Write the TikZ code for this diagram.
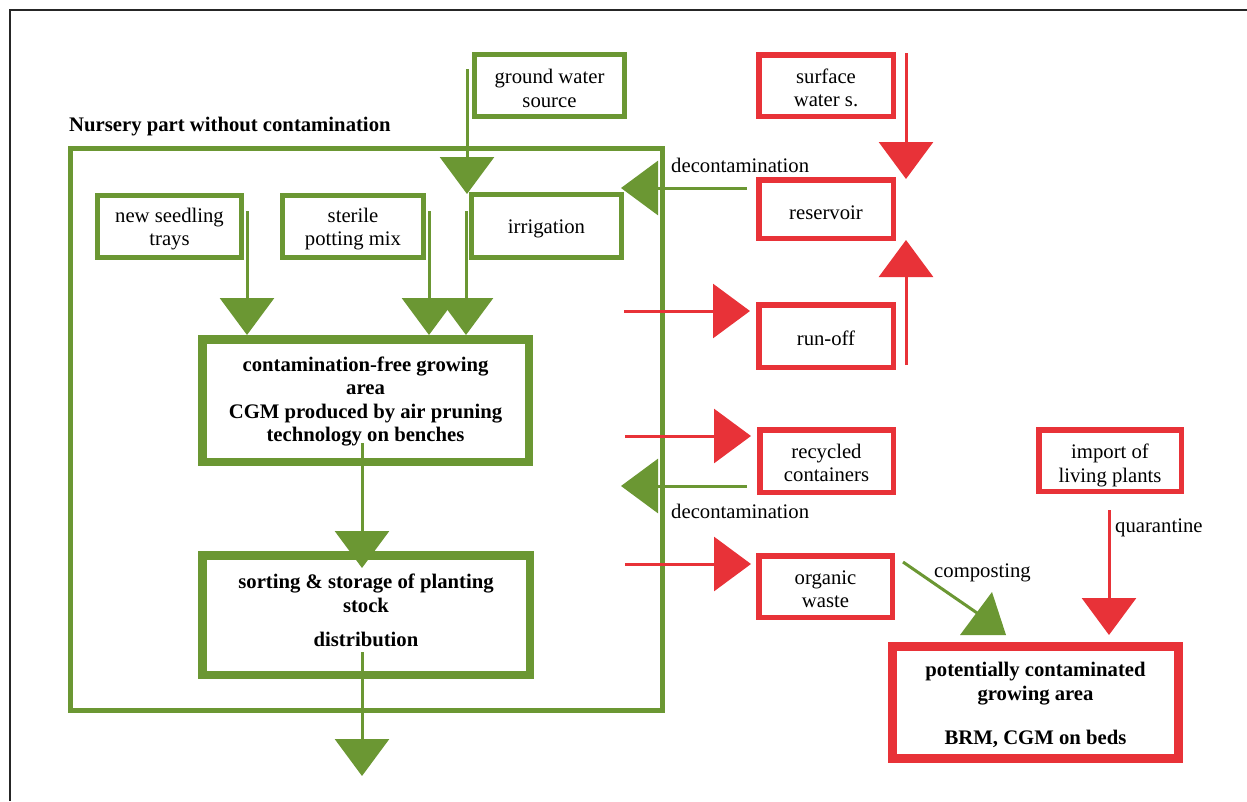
\documentclass[tikz,border=0pt]{standalone}
\usepackage{fontspec}
\setmainfont{Liberation Serif}
\usetikzlibrary{arrows.meta}
\definecolor{gr}{RGB}{107,151,51}
\definecolor{rd}{RGB}{232,50,56}
\newcommand\myfs{\fontsize{20.7}{23.5}\selectfont}
\newcommand\myfsb{\fontsize{20.7}{23.5}\selectfont\bfseries}
\begin{document}
\begin{tikzpicture}[x=1pt,y=-1pt,
  box/.style={draw, inner sep=0pt, outer sep=0pt},
  gbox/.style={box, draw=gr, line width=5pt},
  gboxb/.style={box, draw=gr, line width=8.5pt},
  rbox/.style={box, draw=rd, line width=5.5pt},
  rboxb/.style={box, draw=rd, line width=9pt},
  txt/.style={font=\myfs, align=center, inner sep=0pt},
  txtb/.style={font=\myfsb, align=center, inner sep=0pt},
  garrow/.style={draw=gr, line width=3pt, -{Triangle[width=54pt,length=37pt,fill=gr,color=gr]}},
  rarrow/.style={draw=rd, line width=3pt, -{Triangle[width=54pt,length=37pt,fill=rd,color=rd]}},
  lbl/.style={font=\myfs, inner sep=0pt, anchor=base west},
]
\useasboundingbox (0,0) rectangle (1247,801);
% frame
\coordinate (fr1) at (10,801);
\coordinate (fr2) at (10,10);
\coordinate (fr3) at (1247,10);
\draw[line width=1.5pt, black!85] (fr1) -- (fr2) -- (fr3);

% title
\node[lbl, font=\myfsb] (title) at (69,131.5) {Nursery part without contamination};

% big nursery box
\node[gbox, minimum width=592.5pt, minimum height=562.5pt] (nursery) at (366.25,429.25) {};

% green boxes
\node[gbox, minimum width=150pt, minimum height=62pt,
  label={[txt,yshift=-3pt]center:{ground water\\source}}] (gws) at (549.5,85.5) {};
\node[gbox, minimum width=144pt, minimum height=62pt,
  label={[txt,yshift=-2.5pt]center:{new seedling\\trays}}] (seed) at (169.5,226.5) {};
\node[gbox, minimum width=141pt, minimum height=62pt,
  label={[txt,yshift=-2.5pt]center:{sterile\\potting mix}}] (ster) at (353,226.5) {};
\node[gbox, minimum width=150pt, minimum height=63pt,
  label={[txt,yshift=-2.5pt]center:{irrigation}}] (irr) at (546.5,226) {};
\node[gboxb, minimum width=326.5pt, minimum height=122.5pt,
  label={[txtb,yshift=-1pt]center:{contamination-free growing\\area\\CGM produced by air pruning\\technology on benches}}] (cf) at (365.5,400.5) {};
\node[gboxb, minimum width=327.5pt, minimum height=119.5pt,
  label={[txtb,yshift=4.5pt]center:{sorting \& storage of planting\\stock\\[11pt]distribution}}] (sort) at (366,615) {};

% red boxes
\node[rbox, minimum width=134.5pt, minimum height=61.5pt,
  label={[txt,yshift=-2.5pt]center:{surface\\water s.}}] (surf) at (826,85.5) {};
\node[rbox, minimum width=134.5pt, minimum height=58.5pt,
  label={[txt,yshift=-3.5pt]center:{reservoir}}] (res) at (826,209) {};
\node[rbox, minimum width=134.5pt, minimum height=62.5pt,
  label={[txt,yshift=-2pt]center:{run-off}}] (run) at (826,336) {};
\node[rbox, minimum width=133.5pt, minimum height=62.5pt,
  label={[txt,yshift=-2pt]center:{recycled\\containers}}] (rec) at (826.5,461) {};
\node[rbox, minimum width=133.5pt, minimum height=61.5pt,
  label={[txt,yshift=-2.5pt]center:{organic\\waste}}] (org) at (825.5,586.5) {};
\node[rbox, minimum width=142.5pt, minimum height=61.5pt,
  label={[txt,yshift=-5pt]center:{import of\\living plants}}] (imp) at (1110,460.5) {};
\node[rboxb, minimum width=286pt, minimum height=112pt,
  label={[txtb,yshift=-2.5pt]center:{potentially contaminated\\growing area\\[21pt]BRM, CGM on beds}}] (pot) at (1035.5,702.5) {};

% connector end points
\coordinate (gwsA) at (467,69);   \coordinate (gwsB) at (467,194);
\coordinate (seedA) at (247,211); \coordinate (seedB) at (247,335);
\coordinate (sterA) at (429,211); \coordinate (sterB) at (429,335);
\coordinate (irrA) at (466,211);  \coordinate (irrB) at (466,335);
\coordinate (cfA) at (362,443);   \coordinate (cfB) at (362,568);
\coordinate (sortA) at (362,652); \coordinate (sortB) at (362,776);
\coordinate (decA) at (747,188);  \coordinate (decB) at (621,188);
\coordinate (dec2A) at (747,486); \coordinate (dec2B) at (621,486);
\coordinate (surfA) at (906,53);  \coordinate (surfB) at (906,179);
\coordinate (runA) at (906,365);  \coordinate (runB) at (906,240);
\coordinate (toRunA) at (624,311); \coordinate (toRunB) at (750,311);
\coordinate (toRecA) at (625,436); \coordinate (toRecB) at (751,436);
\coordinate (toOrgA) at (625,564); \coordinate (toOrgB) at (751,564);
\coordinate (quaA) at (1109,510); \coordinate (quaB) at (1109,635);
\coordinate (comA) at (903,562);  \coordinate (comB) at (980,615);
\coordinate (tri1) at (960,635);  \coordinate (tri2) at (1006,635); \coordinate (tri3) at (992,592);

% green connectors
\draw[garrow] (gwsA) -- (gwsB);
\draw[garrow] (seedA) -- (seedB);
\draw[garrow] (sterA) -- (sterB);
\draw[garrow] (irrA) -- (irrB);
\draw[garrow] (cfA) -- (cfB);
\draw[garrow] (sortA) -- (sortB);
\draw[garrow] (decA) -- (decB);
\draw[garrow] (dec2A) -- (dec2B);
\draw[draw=gr, line width=3pt] (comA) -- (comB);
\fill[gr] (tri1) -- (tri2) -- (tri3) -- cycle;

% red connectors
\draw[rarrow] (surfA) -- (surfB);
\draw[rarrow] (runA) -- (runB);
\draw[rarrow] (toRunA) -- (toRunB);
\draw[rarrow] (toRecA) -- (toRecB);
\draw[rarrow] (toOrgA) -- (toOrgB);
\draw[rarrow] (quaA) -- (quaB);

% labels
\node[lbl] (dec1lbl) at (671,172.5) {decontamination};
\node[lbl] (dec2lbl) at (671,518) {decontamination};
\node[lbl] (comlbl) at (934,577) {composting};
\node[lbl] (qualbl) at (1115,532) {quarantine};
\end{tikzpicture}
\end{document}
